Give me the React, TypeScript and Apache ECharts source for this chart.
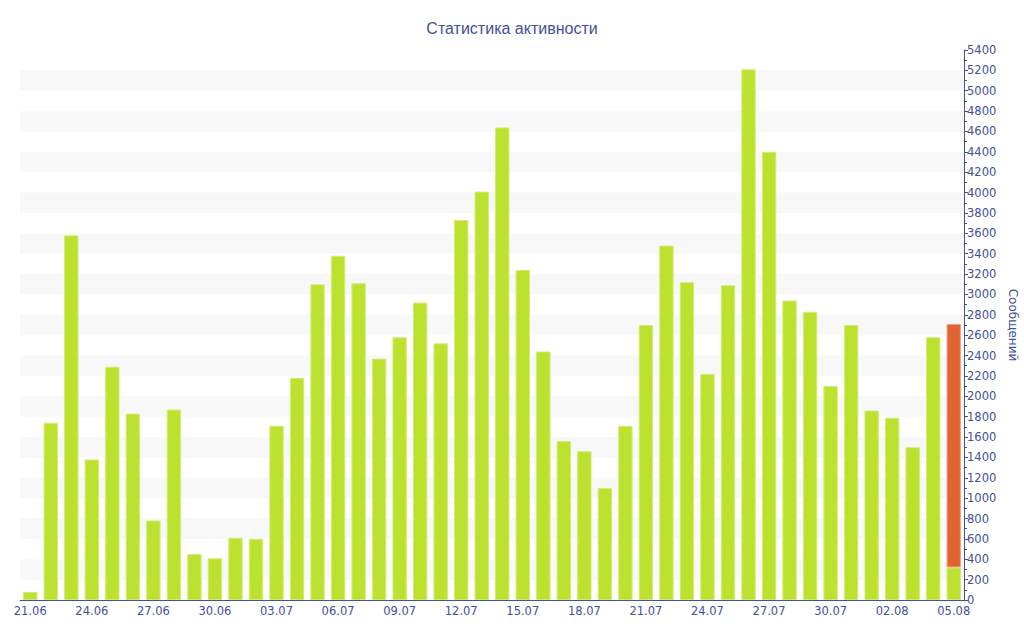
import React, { useEffect, useRef } from "react";
import * as echarts from "echarts";

const dates: string[] = [
  "21.06", "22.06", "23.06", "24.06", "25.06", "26.06", "27.06", "28.06", "29.06", "30.06",
  "01.07", "02.07", "03.07", "04.07", "05.07", "06.07", "07.07", "08.07", "09.07", "10.07",
  "11.07", "12.07", "13.07", "14.07", "15.07", "16.07", "17.07", "18.07", "19.07", "20.07",
  "21.07", "22.07", "23.07", "24.07", "25.07", "26.07", "27.07", "28.07", "29.07", "30.07",
  "31.07", "01.08", "02.08", "03.08", "04.08", "05.08",
];

const mainValues: number[] = [
  80, 1740, 3580, 1380, 2290, 1830, 780, 1870, 450, 410,
  610, 600, 1710, 2180, 3100, 3380, 3110, 2370, 2580, 2920,
  2520, 3730, 4010, 4640, 3240, 2440, 1560, 1460, 1100, 1710,
  2700, 3480, 3120, 2220, 3090, 5210, 4400, 2940, 2830, 2100,
  2700, 1860, 1790, 1500, 2580, 320,
];

const extraValues: (number | null)[] = [
  null, null, null, null, null, null, null, null, null, null,
  null, null, null, null, null, null, null, null, null, null,
  null, null, null, null, null, null, null, null, null, null,
  null, null, null, null, null, null, null, null, null, null,
  null, null, null, null, null, 2390,
];

const TEXT = "#41519a";

export default function App() {
  const ref = useRef<HTMLDivElement>(null);
  useEffect(() => {
    if (!ref.current) return;
    const chart = echarts.init(ref.current, undefined, { renderer: "svg" });
    chart.setOption({
      animation: false,
      title: {
        text: "Статистика активности",
        left: "center",
        top: 15,
        textStyle: { color: TEXT, fontSize: 16, fontWeight: "normal", fontFamily: "Liberation Sans" },
      },
      grid: { left: 20, right: 60, top: 50, bottom: 40, containLabel: false, outerBoundsMode: "none" },
      xAxis: {
        type: "category",
        data: dates,
        boundaryGap: true,
        axisLine: { lineStyle: { color: TEXT, width: 1 } },
        axisTick: { alignWithLabel: true, interval: 2, length: 4, lineStyle: { color: TEXT } },
        axisLabel: { interval: 2, color: TEXT, fontSize: 11.5, fontFamily: "DejaVu Sans", margin: 5 },
        splitLine: { show: false },
      },
      yAxis: {
        type: "value",
        position: "right",
        min: 0,
        max: 5400,
        interval: 200,
        name: "Сообщений",
        nameLocation: "middle",
        nameRotate: -90,
        nameGap: 43,
        nameTextStyle: { color: TEXT, fontSize: 12, fontFamily: "DejaVu Sans" },
        axisLine: { show: true, lineStyle: { color: TEXT } },
        axisTick: { show: true, length: 4, lineStyle: { color: TEXT } },
        minorTick: { show: true, splitNumber: 2, length: 3, lineStyle: { color: TEXT } },
        axisLabel: {
          color: TEXT,
          fontSize: 11.5,
          fontFamily: "DejaVu Sans",
          margin: 3,
          formatter: (v: number) => String(v),
        },
        splitLine: { show: false },
        splitArea: { show: true, areaStyle: { color: ["rgba(0,0,0,0)", "#f8f8f8"] } },
      },
      series: [
        {
          type: "bar",
          stack: "total",
          data: mainValues,
          barCategoryGap: "30%",
          itemStyle: { color: "#bde12f", borderColor: "#d2ec73", borderWidth: 1 },
        },
        {
          type: "bar",
          stack: "total",
          data: extraValues,
          barCategoryGap: "30%",
          itemStyle: { color: "#e0642f", borderColor: "#eda585", borderWidth: 1 },
        },
      ],
    });
    return () => chart.dispose();
  }, []);
  return <div ref={ref} style={{ width: 1024, height: 640, position: "absolute", left: 0, top: 0 }} />;
}
